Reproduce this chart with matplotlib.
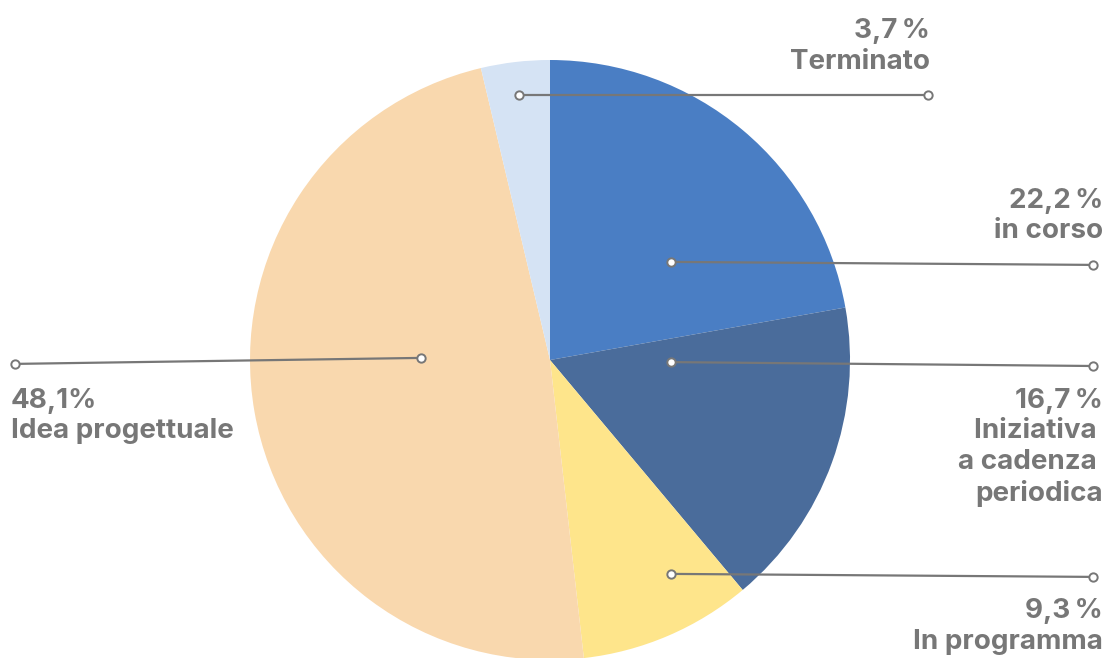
import matplotlib.pyplot as plt

# Project status shares (percent), clockwise from 12 o'clock
categories = ['in corso', 'Iniziativa \na cadenza \nperiodica', 'In programma',
              'Idea progettuale', 'Terminato']
values = [22.2, 16.7, 9.3, 48.1, 3.7]
pct_sep = ['\u2009', '\u2009', '\u2009', '', '\u2009']
colors = ['#4a7ec4', '#4a6c9b', '#fee58b', '#f9d8ae', '#d5e3f4']

# leader lines (start on the slice, end near the label) and label anchors
lines = [((0.403, 0.327), (1.81, 0.317)),
         ((0.403, -0.007), (1.81, -0.020)),
         ((0.403, -0.713), (1.81, -0.723)),
         ((-0.430, 0.007), (-1.783, -0.013)),
         ((-0.103, 0.883), (1.26, 0.883))]
anchors = [((1.843, 0.575), 'right'),
           ((1.843, -0.092), 'right'),
           ((1.843, -0.795), 'right'),
           ((-1.797, -0.092), 'left'),
           ((1.266, 1.140), 'right')]

grey = '#777777'
plt.rcParams['font.family'] = ['Inter', 'DejaVu Sans']

fig = plt.figure(figsize=(11.08, 6.58), dpi=100)
ax = fig.add_axes([0, 0, 1, 1])
ax.pie(values, colors=colors, startangle=90, counterclock=False,
       radius=1, center=(0, 0), wedgeprops={'linewidth': 0})
ax.set_xlim(-550 / 300, 558 / 300)
ax.set_ylim(-298 / 300, 360 / 300)
ax.set_aspect('equal')
ax.axis('off')

for (p0, p1) in lines:
    ax.plot([p0[0], p1[0]], [p0[1], p1[1]], color=grey, lw=1.6, zorder=3)
    ax.plot([p0[0], p1[0]], [p0[1], p1[1]], 'o', ms=6, mfc='white',
            mec=grey, mew=1.4, zorder=4, linestyle='none')

for cat, v, sep, (pos, ha) in zip(categories, values, pct_sep, anchors):
    text = f"{v:.1f}".replace('.', ',') + sep + '%\n' + cat
    ax.text(pos[0], pos[1], text, ha=ha, va='top', color=grey,
            fontsize=20, fontweight='bold', linespacing=1.24,
            multialignment=ha, family=['Inter', 'DejaVu Sans'])

plt.savefig('out.png', dpi=100, facecolor='white')
